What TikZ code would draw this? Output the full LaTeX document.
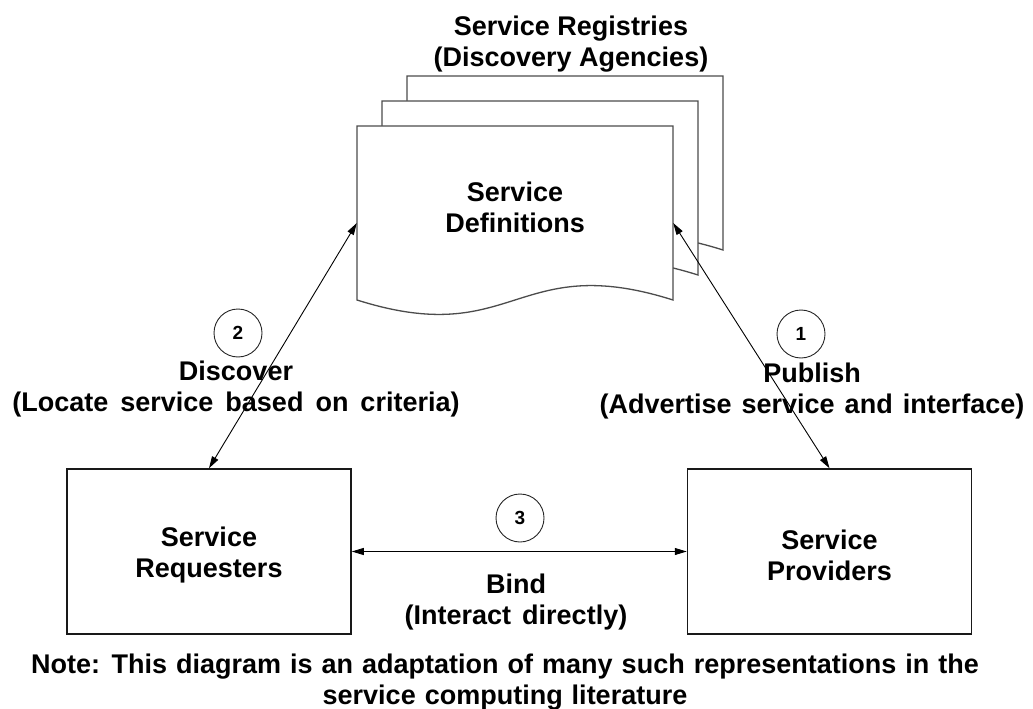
\documentclass[tikz,border=0pt]{standalone}
\usepackage{fontspec}
\setmainfont{Liberation Sans}
\usetikzlibrary{arrows.meta}
\begin{document}
\begin{tikzpicture}[x=1bp,y=-1bp,
  lbl/.style={font=\fontsize{27bp}{31bp}\selectfont\bfseries, align=center, inner sep=0pt},
  numc/.style={circle, draw=black!85, line width=0.9bp, minimum size=48bp, inner sep=0pt,
    font=\fontsize{19bp}{22bp}\selectfont\bfseries},
  actor/.style={draw=black!90, line width=1.5bp, minimum width=284bp, minimum height=165bp,
    inner sep=0pt},
  docpage/.style={draw=black!70, line width=1.3bp, fill=white},
  link/.style={line width=0.9bp, {Triangle[length=12bp,width=7bp]}-{Triangle[length=12bp,width=7bp]}}
]
\useasboundingbox (0,0) rectangle (1033,709);

% stacked registry pages, back to front
\foreach \d in {50,25,0} {
  \draw[docpage, shift={(\d,-\d)}] (357,126) -- (673,126) -- (673,300)
    .. controls (515,250) and (515,350) .. (357,300) -- cycle;
}
\node[minimum width=316bp, minimum height=194bp, inner sep=0pt] (defs) at (515,223) {};
\node[lbl] (defstext) at (515,207) {Service\\Definitions};
\node[lbl] (title) at (571,44) {Service Registries\\(Discovery Agencies)};

% participants
\node[actor] (req) at (209,551.5) {};
\node[actor] (prov) at (829.5,551.5) {};
\node[lbl] (reqtext) at (209,555.5) {Service\\Requesters};
\node[lbl] (provtext) at (829.5,555.5) {Service\\Providers};

% interactions
\draw[link] (req.north) -- (defs.west);
\draw[link] (prov.north) -- (defs.east);
\draw[link] (req.east) -- (prov.west);

\node[numc] (n2) at (238,333) {2};
\node[numc] (n1) at (801,334) {1};
\node[numc] (n3) at (520,518) {3};

\node[lbl] (disc) at (236,389) {Discover\\\spaceskip=12bp (Locate service based on criteria)};
\node[lbl] (pub) at (812,391) {Publish\\\spaceskip=10bp (Advertise service and interface)};
\node[lbl] (bind) at (516,602) {Bind\\\spaceskip=11bp (Interact directly)};

\node[lbl] (note) at (505,682) {\spaceskip=9bp Note: This diagram is an adaptation of many such representations in the\\\spaceskip=9bp service computing literature};
\end{tikzpicture}
\end{document}
